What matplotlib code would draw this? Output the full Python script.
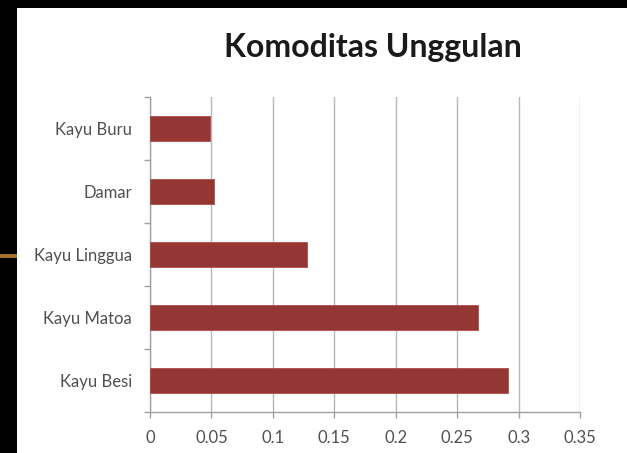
import numpy as np
import matplotlib.pyplot as plt
from matplotlib.patches import Rectangle

# data
categories = ["Kayu Besi", "Kayu Matoa", "Kayu Linggua", "Damar", "Kayu Buru"]
values = [0.291, 0.267, 0.128, 0.052, 0.049]
xticks = [0, 0.05, 0.1, 0.15, 0.2, 0.25, 0.3, 0.35]
xtick_labels = ["0", "0.05", "0.1", "0.15", "0.2", "0.25", "0.3", "0.35"]

plt.rcParams['font.family'] = ['Lato', 'DejaVu Sans']

fig = plt.figure(figsize=(6.27, 4.53), dpi=100, facecolor="black")

# white slide area with dark border, plus the little orange glow on the left
fig.patches.append(Rectangle((17 / 627, 0), 1, 1 - 8 / 453, transform=fig.transFigure,
                             facecolor="white", edgecolor="none", zorder=-2))
fig.patches.append(Rectangle((0, 1 - 258 / 453), 17 / 627, 4 / 453, transform=fig.transFigure,
                             facecolor="#d08a30", edgecolor="none", alpha=0.8, zorder=-2))

ax = fig.add_axes([150 / 627, 41 / 453, 430 / 627, 315 / 453])
ax.set_facecolor("white")

pos = np.arange(len(categories))
ax.barh(pos, values, height=0.4, color="#943634", edgecolor="#b04a48", linewidth=0.6, zorder=3)

ax.set_xlim(0, 0.35)
ax.set_ylim(-0.5, len(categories) - 0.5)

ax.set_xticks(xticks)
ax.set_xticklabels(xtick_labels)
ax.xaxis.grid(True, color="#b8b8b8", linewidth=1.0, zorder=0)
ax.set_axisbelow(True)

# category boundaries carry the tick marks, labels sit at bar centres
ax.set_yticks(np.arange(-0.5, len(categories), 1.0))
ax.set_yticklabels([])
ax.set_yticks(pos, minor=True)
ax.set_yticklabels(categories, minor=True)
ax.tick_params(axis="y", which="minor", length=0, pad=13, labelsize=12, labelcolor="#505050")
ax.tick_params(axis="y", which="major", length=4, color="#a0a0a0", width=1)
ax.tick_params(axis="x", length=4, color="#a0a0a0", width=1, pad=9, labelsize=12,
               labelcolor="#505050")

for side in ["top", "right"]:
    ax.spines[side].set_visible(False)
for side in ["left", "bottom"]:
    ax.spines[side].set_color("#a0a0a0")
    ax.spines[side].set_linewidth(1)

fig.text(373 / 627, 1 - 47 / 453, "Komoditas Unggulan", ha="center", va="center",
         fontsize=23, fontweight="bold", color="#1a1a1a")

fig.savefig("out.png", dpi=100, facecolor=fig.get_facecolor())
